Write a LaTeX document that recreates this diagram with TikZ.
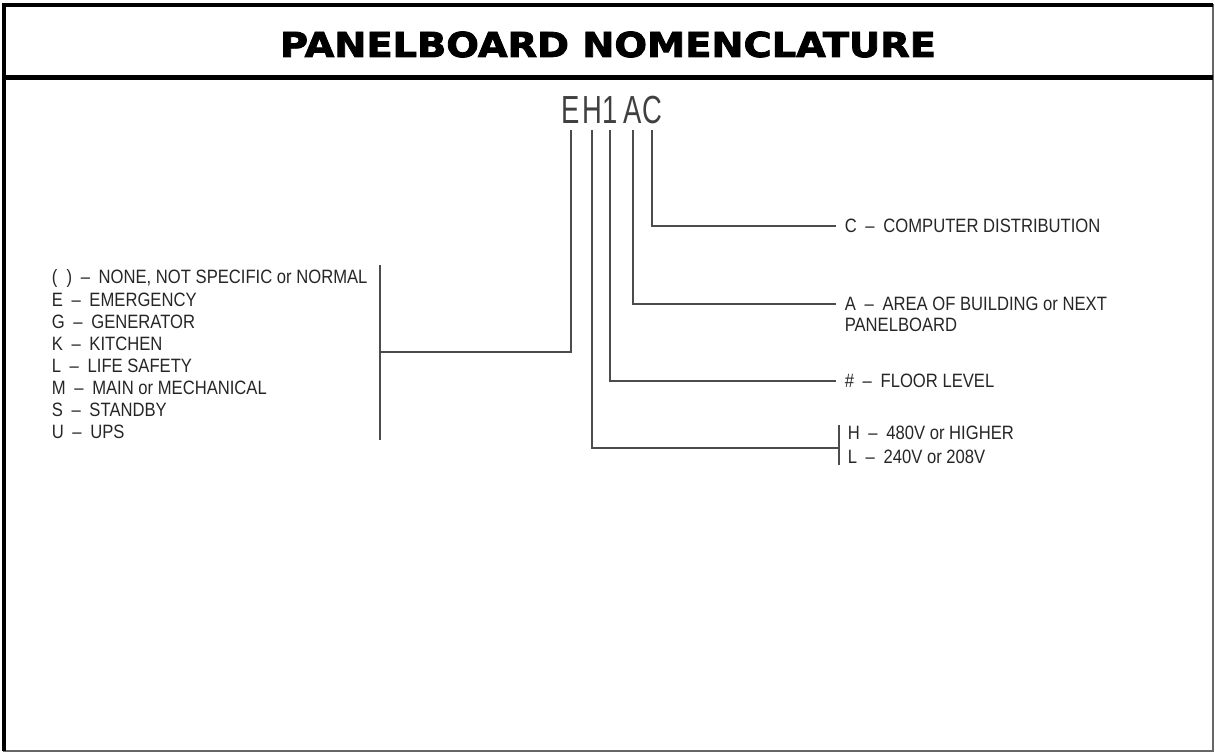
\documentclass[tikz,border=0pt]{standalone}
\usepackage{fontspec}
\setmainfont{Liberation Sans}
\newfontfamily\cadfont[FakeStretch=0.86]{Liberation Sans}
\newfontfamily\codefont[FakeStretch=0.7]{Liberation Sans}
\newfontfamily\titlefont[FakeStretch=1.12,FakeBold=2.5]{DejaVu Sans Bold}
\newcommand{\dsh}{\hspace{.45em}\textendash\hspace{.45em}}
\tikzset{lead/.style={draw=black!70,line width=0.8pt},
  letter/.style={font=\codefont\fontsize{22.3}{22.3}\selectfont,inner sep=0pt,outer ysep=3.4pt,anchor=base,text=black!75},
  key/.style={font=\cadfont\fontsize{11}{12.6}\selectfont,inner sep=0pt,outer xsep=5pt,anchor=west,align=left,text=black!85}}

\begin{document}
\begin{tikzpicture}[x=0.02cm,y=-0.02cm]
\useasboundingbox (0,0) rectangle (1215,753);
% frame and title
\draw[line width=1.1pt,black!60] (4,5) rectangle (1213,751);
\draw[line width=2.3pt] (4,751)--(4,5)--(1213,5);\draw[line width=2.3pt] (4,77.5)--(1213,77.5);
\node[font=\titlefont\fontsize{19.5}{19.5}\selectfont] (title) at (608,44.5){PANELBOARD NOMENCLATURE};
% the designation
\node[letter] (E) at (571,124){E};\node[letter] (H) at (592,124){H};\node[letter] (one) at (610,124){1};
\node[letter] (A) at (633,124){A};\node[letter] (C) at (652,124){C};
% type of panel
\node[key] (types) at (43,354.5){(\ \ )\dsh NONE, NOT SPECIFIC or NORMAL\\E\dsh EMERGENCY\\G\dsh GENERATOR\\K\dsh KITCHEN\\L\dsh LIFE SAFETY\\M\dsh MAIN or MECHANICAL\\S\dsh STANDBY\\U\dsh UPS};
\coordinate (ebar) at (380,352);
\draw[lead] (380,265)--(380,440);\draw[lead] (E.south) |- (ebar);
% voltage
\coordinate (hbar) at (839,448);
\node[key] (htext) at (839,433){H\dsh 480V or HIGHER};\node[key] (ltext) at (839,457){L\dsh 240V or 208V};
\draw[lead] (839,425)--(839,465);\draw[lead] (H.south) |- (hbar);
% floor, area, computer
\node[key] (floor) at (836,381){\#\dsh FLOOR LEVEL};\draw[lead] (one.south) |- (floor.west);
\node[key] (area) at (836,304){A\dsh AREA OF BUILDING or NEXT};\node[key] (area2) at (836,325){PANELBOARD};
\draw[lead] (A.south) |- (area.west);
\node[key] (comp) at (836,226){C\dsh COMPUTER DISTRIBUTION};\draw[lead] (C.south) |- (comp.west);
\end{tikzpicture}
\end{document}
